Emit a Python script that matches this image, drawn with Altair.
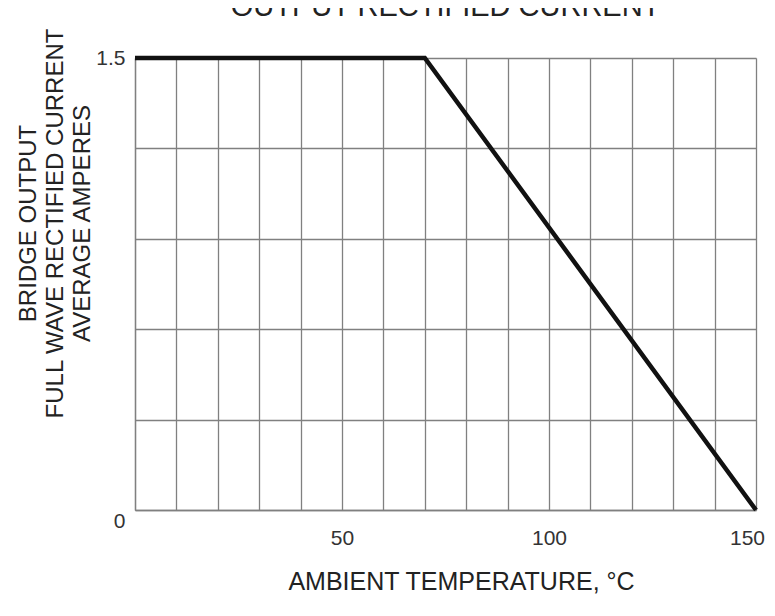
import altair as alt
import pandas as pd

# Derating curve: ambient temperature (°C) vs average output current (A)
temps = [0, 70, 150]
amps = [1.5, 1.5, 0.0]

# Grid / tick positions
x_ticks = list(range(0, 151, 10))
y_ticks = [0, 0.3, 0.6, 0.9, 1.2, 1.5]

title_text = "OUTPUT RECTIFIED CURRENT"
x_title = "AMBIENT TEMPERATURE, °C"
y_title = ["BRIDGE OUTPUT", "FULL WAVE RECTIFIED CURRENT", "AVERAGE AMPERES"]

df = pd.DataFrame({"t": temps, "a": amps})

FONT = "Liberation Sans"
GRAY = "#808080"
TXT = "#222222"

x_axis = alt.Axis(
    values=x_ticks,
    labelExpr="(datum.value % 50 == 0 && datum.value > 0) ? datum.label : ''",
    grid=True, gridColor=GRAY, gridWidth=1.3,
    domain=True, domainColor=GRAY, domainWidth=1.3,
    ticks=False, tickSize=0,
    labelFont=FONT, labelFontSize=21, labelColor="#333333",
    labelBaseline="top", labelPadding=17, labelAngle=0, labelFlush=False,
    labelOffset={"condition": {"test": "datum.value == 150", "value": -9}, "value": 0},
    title=x_title, titleFont=FONT, titleFontSize=25, titleFontWeight="normal",
    titleColor=TXT, titleX=326, titleY=79, titleAlign="center",
    titleBaseline="alphabetic",
)

y_axis = alt.Axis(
    values=y_ticks,
    labelExpr="datum.value == 0 ? '0' : (datum.value == 1.5 ? '1.5' : '')",
    grid=True, gridColor=GRAY, gridWidth=1.3,
    domain=True, domainColor=GRAY, domainWidth=1.3,
    ticks=False, tickSize=0,
    labelFont=FONT, labelFontSize=21, labelColor="#333333",
    labelPadding=10, labelAlign="right",
    labelBaseline={"condition": {"test": "datum.value == 0", "value": "top"}, "value": "middle"},
    title=y_title, titleFont=FONT, titleFontSize=24, titleFontWeight="normal",
    titleColor=TXT, titleX=-107, titleY=165, titleAngle=270, titleAlign="center",
    titleBaseline="middle", titleLineHeight=27,
)

chart = alt.Chart(df).mark_line(color="#111111", strokeWidth=4.5).encode(
    x=alt.X("t:Q", scale=alt.Scale(domain=[0, 150], nice=False, zero=False), axis=x_axis),
    y=alt.Y("a:Q", scale=alt.Scale(domain=[0, 1.5], nice=False), axis=y_axis),
).properties(
    width=621,
    height=452,
    autosize=alt.AutoSizeParams(type="none"),
    padding={"left": 127, "top": 50, "right": 11, "bottom": 106},
    title=alt.TitleParams(
        text=title_text, font=FONT, fontSize=29, fontWeight="normal", color=TXT,
        anchor="middle", frame="group", offset=0, dy=17, baseline="alphabetic",
    ),
).configure_view(
    stroke=GRAY, strokeWidth=1.3
).configure(background="white")

chart.save("out.html", embed_options={"renderer": "svg", "actions": False})
